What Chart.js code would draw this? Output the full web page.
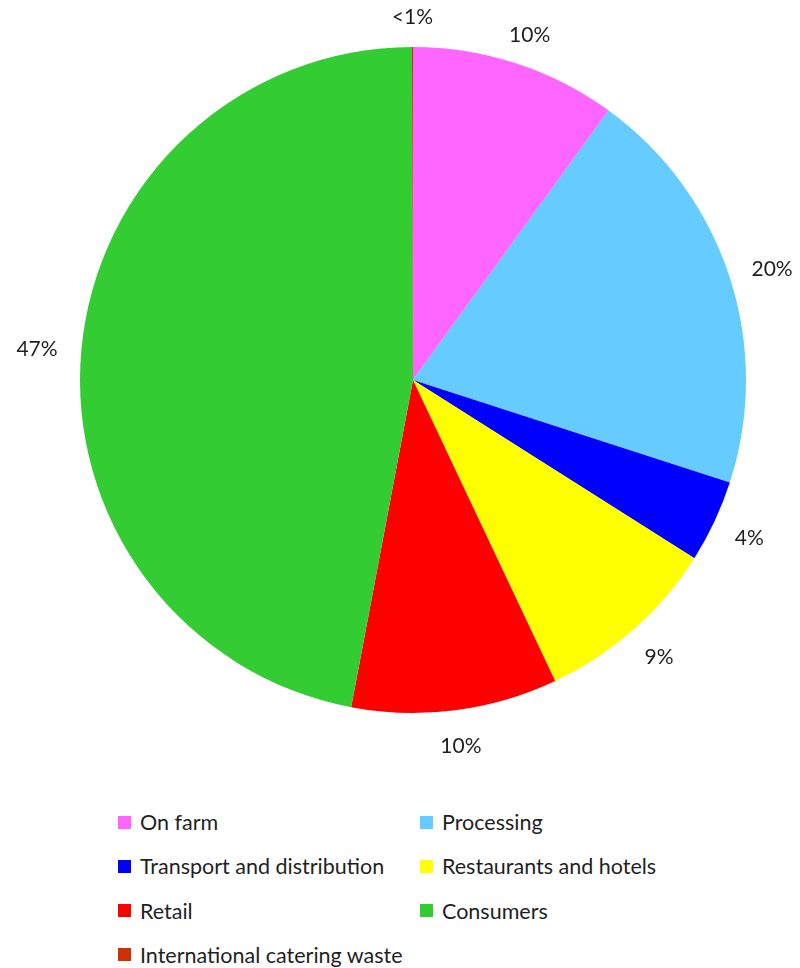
<!DOCTYPE html>
<html>
<head>
<meta charset="utf-8">
<script src="https://cdn.jsdelivr.net/npm/chart.js@4/dist/chart.umd.min.js"></script>
<style>
  html, body { margin: 0; padding: 0; background: #fff; }
  body { width: 800px; height: 968px; position: relative; overflow: hidden; font-family: Lato, 'Open Sans', sans-serif; color: #1f1f1f; }
  #wrap { position: absolute; left: 0; top: 0; width: 800px; height: 760px; }
  #legend { position: absolute; left: 118px; top: 808px; width: 600px; }
  .item { position: absolute; display: flex; align-items: center; font-size: 21.5px; white-space: nowrap; height: 28px; }
  .box { width: 13px; height: 13px; margin-right: 9px; }
</style>
</head>
<body>
<div id="wrap"><canvas id="pie"></canvas></div>
<div id="legend"></div>
<script>
'use strict';

// ─── Data ─────────────────────────────────────────────────────────────────────

const categories = ['On farm', 'Processing', 'Transport and distribution', 'Restaurants and hotels', 'Retail', 'Consumers', 'International catering waste'];
const shares     = [10, 20, 4, 9, 10, 47, 0.05];
const shareText  = ['10%', '20%', '4%', '9%', '10%', '47%', '<1%'];
const colors     = ['#FF66FF', '#66CCFF', '#0000FF', '#FFFF00', '#FF0000', '#33CC33', '#CC3300'];

// ─── Outside labels ───────────────────────────────────────────────────────────

const outsideLabels = {
  id: 'outsideLabels',
  afterDatasetsDraw(chart) {
    const ctx = chart.ctx;
    const meta = chart.getDatasetMeta(0);
    ctx.save();
    ctx.font = '21px Lato, "Open Sans", sans-serif';
    ctx.fillStyle = '#1f1f1f';
    ctx.textAlign = 'center';
    ctx.textBaseline = 'middle';
    meta.data.forEach((arc, i) => {
      const mid = (arc.startAngle + arc.endAngle) / 2;
      const r = arc.outerRadius + 24;
      const w = ctx.measureText(shareText[i]).width;
      const h = 18;
      const x = arc.x + Math.cos(mid) * r + Math.cos(mid) * w / 2;
      const y = arc.y + Math.sin(mid) * r + Math.sin(mid) * h / 2 + 3;
      ctx.fillText(shareText[i], x, y);
    });
    ctx.restore();
  },
};

new Chart(document.getElementById('pie'), {
  type: 'pie',
  data: {
    labels: categories,
    datasets: [{
      data: shares,
      backgroundColor: colors,
      borderWidth: 0,
    }],
  },
  options: {
    responsive: true,
    maintainAspectRatio: false,
    animation: false,
    layout: { padding: { left: 80, right: 54, top: 47, bottom: 47 } },
    plugins: {
      legend: { display: false },
      tooltip: { enabled: false },
    },
  },
  plugins: [outsideLabels],
});

// ─── Legend ───────────────────────────────────────────────────────────────────

const legend = document.getElementById('legend');
categories.forEach((name, i) => {
  const el = document.createElement('div');
  el.className = 'item';
  el.style.left = (i % 2 ? 302 : 0) + 'px';
  el.style.top  = (Math.floor(i / 2) * 44.3) + 'px';
  el.innerHTML = `<span class="box" style="background:${colors[i]}"></span>${name}`;
  legend.appendChild(el);
});
</script>
</body>
</html>
